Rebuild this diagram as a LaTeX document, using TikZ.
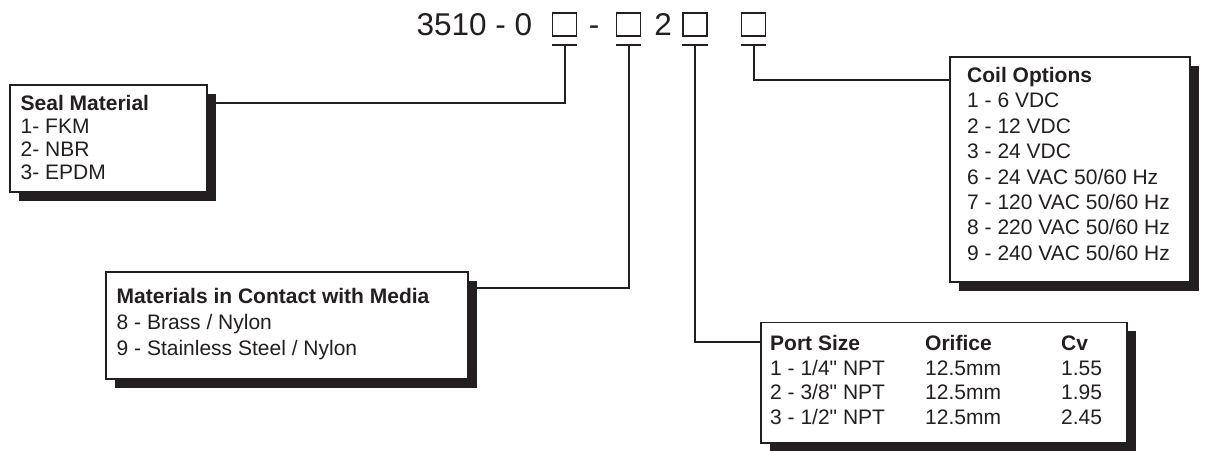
\documentclass[tikz,border=0pt]{standalone}
\usepackage{fontspec}
\setmainfont{Liberation Sans}
\usetikzlibrary{shadows}
\definecolor{ink}{HTML}{231F20}
\begin{document}
\begin{tikzpicture}[x=1pt,y=-1pt,
  optbox/.style={draw=ink, line width=1.1pt, fill=white, inner sep=0pt,
    drop shadow={shadow xshift=8.5pt, shadow yshift=-8.5pt, fill=ink, opacity=1}},
  txt/.style={inner sep=0pt, text=ink, anchor=base west},
  titletext/.style={inner sep=0pt, text=ink, font=\fontsize{31.5}{36}\selectfont},
  sqbox/.style={draw=ink, line width=1.8pt, minimum width=24pt, minimum height=23pt, inner sep=0pt},
  conn/.style={draw=ink, line width=2pt}
]
\useasboundingbox (0,0) rectangle (1209,450);
\fill[white] (0,0) rectangle (1209,450);

% part number
\node[titletext, anchor=base west] (pn) at (416.5,35) {3510 - 0};
\node[sqbox] (sq1) at (564.5,24.5) {};
\node[titletext, anchor=base] (dash) at (594,35) {-};
\node[sqbox] (sq2) at (628.5,24.5) {};
\node[titletext, anchor=base] (two) at (663,35) {2};
\node[sqbox] (sq3) at (695,24.5) {};
\node[sqbox] (sq4) at (753.5,24.5) {};

% tee bars
\coordinate (tb1) at (564.5,45);
\coordinate (tb2) at (628.5,45);
\coordinate (tb3) at (695,45);
\coordinate (tb4) at (753.5,45);
\draw[conn] (sq1.west |- tb1) -- (sq1.east |- tb1);
\draw[conn] (sq2.west |- tb2) -- (sq2.east |- tb2);
\draw[conn] (sq3.west |- tb3) -- (sq3.east |- tb3);
\draw[conn] (sq4.west |- tb4) -- (sq4.east |- tb4);

% boxes
\node[optbox, minimum width=197pt, minimum height=107pt] (seal) at (108.5,138.5) {};
\node[optbox, minimum width=362pt, minimum height=107pt] (mat) at (287,325.5) {};
\node[optbox, minimum width=240pt, minimum height=225pt] (coil) at (1070,169.5) {};
\node[optbox, minimum width=366pt, minimum height=120.5pt] (port) at (944,382.75) {};

% texts
\node[txt, font=\fontsize{21}{23}\selectfont] (sealtxt) at (20.5,110.5)
  {\begin{tabular}[t]{@{}l@{}}\textbf{Seal Material}\\1- FKM\\2- NBR\\3- EPDM\end{tabular}};
\node[txt, font=\fontsize{21}{26}\selectfont] (mattxt) at (116.5,303)
  {\begin{tabular}[t]{@{}l@{}}\textbf{Materials in Contact with Media}\\8 - Brass / Nylon\\9 - Stainless Steel / Nylon\end{tabular}};
\node[txt, font=\fontsize{21}{25.4}\selectfont] (coiltxt) at (967,82.5)
  {\begin{tabular}[t]{@{}l@{}}\textbf{Coil Options}\\1 - 6 VDC\\2 - 12 VDC\\3 - 24 VDC\\6 - 24 VAC 50/60 Hz\\7 - 120 VAC 50/60 Hz\\8 - 220 VAC 50/60 Hz\\9 - 240 VAC 50/60 Hz\end{tabular}};
\node[txt, font=\fontsize{21}{24.6}\selectfont] (porttxt) at (770,350.5)
  {\begin{tabular}[t]{@{}p{155pt}@{}p{136pt}@{}l@{}}\textbf{Port Size}&\textbf{Orifice}&\textbf{Cv}\\
  1 - 1/4\textquotedbl{} NPT&12.5mm&1.55\\
  2 - 3/8\textquotedbl{} NPT&12.5mm&1.95\\
  3 - 1/2\textquotedbl{} NPT&12.5mm&2.45\end{tabular}};

% connectors
\coordinate (e1) at (564.5,103);
\coordinate (e2) at (628.5,288);
\coordinate (e3) at (695,342);
\coordinate (e4) at (753.5,80);
\draw[conn] (tb1) -- (e1) -- (seal.east |- e1);
\draw[conn] (tb2) -- (e2) -- (mat.east |- e2);
\draw[conn] (tb3) -- (e3) -- (port.west |- e3);
\draw[conn] (tb4) -- (e4) -- (coil.west |- e4);
\end{tikzpicture}
\end{document}
